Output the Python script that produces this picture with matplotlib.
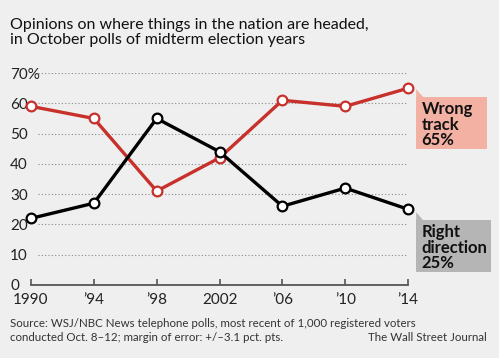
import matplotlib.pyplot as plt
from matplotlib.patches import Polygon

plt.rcParams['font.family'] = ['Lato', 'DejaVu Sans']

years = [1990, 1994, 1998, 2002, 2006, 2010, 2014]
year_labels = ['1990', '\u201994', '\u201998', '2002', '\u201906', '\u201910', '\u201914']
wrong_track = [59, 55, 31, 42, 61, 59, 65]
right_direction = [22, 27, 55, 44, 26, 32, 25]
y_ticks = [0, 10, 20, 30, 40, 50, 60, 70]
y_labels = ['0', '10', '20', '30', '40', '50', '60', '70%']

red = '#c8312b'
bg = '#efefef'

fig = plt.figure(figsize=(4.99, 3.58), dpi=100, facecolor=bg)
ax = fig.add_axes([0.062, 0.204, 0.756, 0.592])
ax.set_facecolor(bg)

# dotted gridlines, starting just right of the labels
for v in y_ticks[1:]:
    ax.axhline(v, xmin=0.018, color='#888888', lw=0.8, ls=(0, (1, 2)), zorder=1)

ax.plot(years, wrong_track, color=red, lw=2.4, marker='o', ms=7,
        mfc='white', mec=red, mew=1.6, zorder=3, clip_on=False)
ax.plot(years, right_direction, color='black', lw=2.4, marker='o', ms=7,
        mfc='white', mec='black', mew=1.6, zorder=3, clip_on=False)

ax.set_xlim(1990, 2014)
ax.set_ylim(0, 70)
for s in ['top', 'right', 'left']:
    ax.spines[s].set_visible(False)
ax.spines['bottom'].set_color('#555555')
ax.spines['bottom'].set_linewidth(1.3)

ax.set_xticks(years)
ax.set_xticklabels(year_labels, fontsize=11, color='#222222')
ax.tick_params(axis='x', direction='in', length=4, width=1.2, color='#555555', pad=6)
ax.set_yticks(y_ticks)
ax.set_yticklabels(y_labels, fontsize=11, color='#222222', ha='left')
ax.tick_params(axis='y', length=0, pad=15)

# label boxes with small pointer notch
def label_box(x0, y0, w, h, color, text):
    rect = plt.Rectangle((x0, y0), w, h, transform=fig.transFigure,
                         facecolor=color, edgecolor='none')
    fig.patches.append(rect)
    tri = Polygon([(x0, y0 + h), (x0 + 0.014, y0 + h), (x0, y0 + h + 0.022)],
                  closed=True, transform=fig.transFigure, facecolor=color,
                  edgecolor='none')
    fig.patches.append(tri)
    fig.text(x0 + 0.011, y0 + h - 0.012, text, fontsize=12, fontweight='bold',
             va='top', ha='left', linespacing=0.95, color='#111111')

label_box(0.834, 0.584, 0.142, 0.145, '#f2b1a3', 'Wrong\ntrack\n65%')
label_box(0.834, 0.240, 0.150, 0.145, '#b5b5b5', 'Right\ndirection\n25%')

fig.text(0.02, 0.95, 'Opinions on where things in the nation are headed,\nin October polls of midterm election years',
         fontsize=11.5, va='top', ha='left', linespacing=1.1, color='#111111')

fig.text(0.02, 0.112, 'Source: WSJ/NBC News telephone polls, most recent of 1,000 registered voters',
         fontsize=8.3, va='top', ha='left', color='#333333')
fig.text(0.02, 0.072, 'conducted Oct. 8\u201312; margin of error: +/\u20133.1 pct. pts.',
         fontsize=8.3, va='top', ha='left', color='#333333')
fig.text(0.975, 0.072, 'The Wall Street Journal', fontsize=8.3, va='top', ha='right',
         color='#333333')

fig.savefig('out.png', dpi=100, facecolor=bg)
